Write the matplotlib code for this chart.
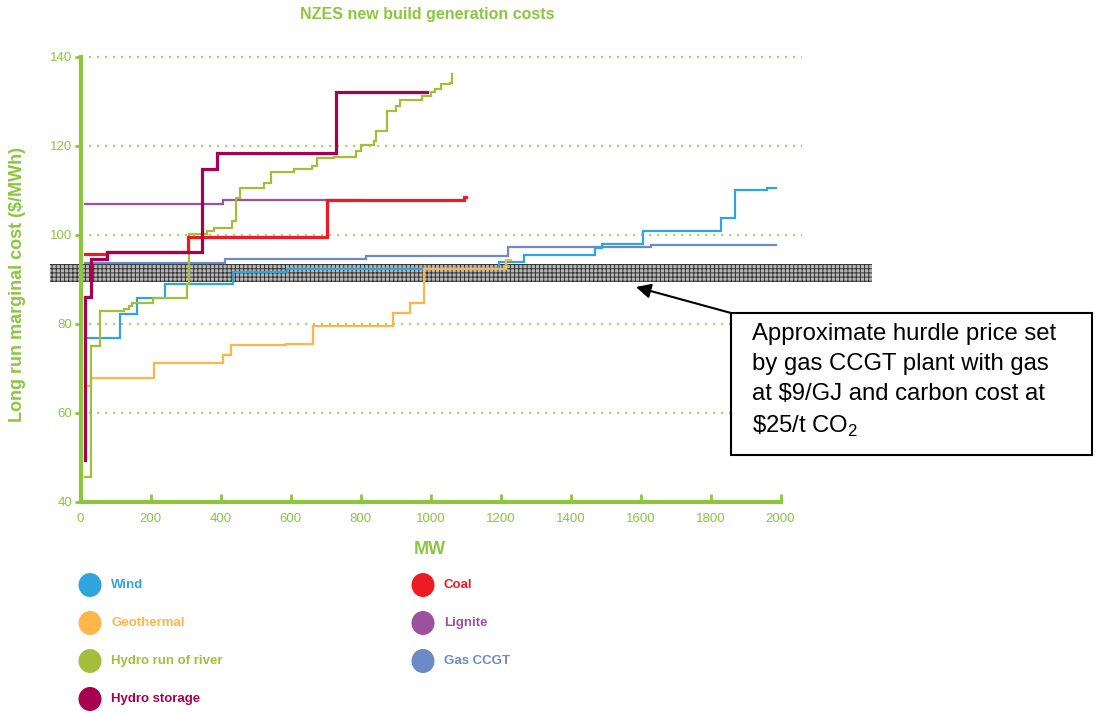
# NZES new build generation costs - step curves of long run marginal cost vs MW

import matplotlib
matplotlib.use('Agg')
import matplotlib.pyplot as plt
from matplotlib.patches import Rectangle, Ellipse

plt.rcParams['font.family'] = ['Liberation Sans', 'DejaVu Sans']
plt.rcParams['mathtext.fontset'] = 'custom'
plt.rcParams['mathtext.rm'] = 'Liberation Sans'
plt.rcParams['hatch.linewidth'] = 0.7

GREEN = '#8CC63F'
GRID = '#A9D46E'

# cumulative MW where each cost step starts, and the cost ($/MWh)
wind_x = [12, 112, 160, 240, 435, 589, 1197, 1267, 1471, 1490, 1607, 1829, 1871, 1962, 1986]
wind_y = [76.7, 82.2, 85.7, 88.9, 91.7, 92.4, 93.8, 95.4, 96.9, 97.8, 100.8, 103.7, 110.0, 110.6, 110.6]

geo_x = [12, 30, 211, 408, 429, 586, 663, 892, 941, 981, 1217, 1230]
geo_y = [66.0, 67.7, 71.2, 73.0, 75.2, 75.4, 79.5, 82.5, 84.7, 92.3, 94.3, 94.3]

ror_x = [12, 30, 55, 124, 138, 147, 207, 305, 310, 362, 381, 433, 443, 457, 524, 543,
         610, 662, 676, 724, 786, 800, 838, 843, 876, 900, 914, 976, 1000, 1014, 1029, 1057, 1062]
ror_y = [45.6, 75.0, 82.9, 83.3, 84.0, 84.7, 85.8, 88.9, 100.1, 100.9, 101.5, 103.0, 108.3, 110.4,
         111.7, 114.1, 114.7, 115.4, 117.3, 117.5, 118.8, 120.1, 121.1, 123.3, 127.8, 128.9,
         130.2, 131.2, 132.0, 132.7, 133.8, 134.2, 136.1]

storage_x = [12, 14, 31, 76, 348, 389, 729, 990]
storage_y = [49.4, 86.1, 94.5, 96.1, 114.8, 118.4, 132.0, 132.0]

coal_x = [12, 76, 308, 703, 1095, 1100]
coal_y = [95.7, 96.1, 99.4, 107.7, 108.4, 108.4]

lignite_x = [12, 407, 805]
lignite_y = [106.8, 107.7, 107.7]

gas_x = [12, 414, 817, 1222, 1629, 1986]
gas_y = [93.6, 94.5, 95.2, 97.2, 97.6, 97.6]

# hurdle price band
hurdle_lo, hurdle_hi = 89.3, 93.5

names = ['Wind', 'Geothermal', 'Hydro run of river', 'Hydro storage', 'Coal', 'Lignite', 'Gas CCGT']
colors = ['#2FA4DD', '#FDB64A', '#A4BE3B', '#A6004E', '#ED1C24', '#9B519E', '#6C8AC7']
series = [(wind_x, wind_y), (geo_x, geo_y), (ror_x, ror_y), (storage_x, storage_y),
          (coal_x, coal_y), (lignite_x, lignite_y), (gas_x, gas_y)]
widths = [1.6, 1.6, 1.6, 2.3, 2.3, 1.6, 1.6]
draw_order = [6, 0, 1, 5, 2, 4, 3]

fig = plt.figure(figsize=(10.96, 7.13), dpi=100)
ax = fig.add_axes([80.5 / 1096, (713 - 501.7) / 713, 700 / 1096, 445 / 713])
ax.set_xlim(0, 2000)
ax.set_ylim(40, 140)

# dotted gridlines
for gy in [60, 80, 100, 120, 140]:
    ax.plot([25, 2060], [gy, gy], color=GRID, lw=1.6, ls=(0, (1, 2.6)),
            clip_on=False, zorder=1)

# hatched hurdle band (runs past the axes)
ax.fill_between([-88, 2262], hurdle_lo, hurdle_hi, facecolor='#b8b8b8', edgecolor='#333333',
                hatch='++++', lw=0, clip_on=False, zorder=2)

for i in draw_order:
    x, y = series[i]
    ax.step(x, y, where='post', color=colors[i], lw=widths[i], zorder=3 + draw_order.index(i),
            solid_joinstyle='miter')

for side in ['top', 'right']:
    ax.spines[side].set_visible(False)
for side in ['left', 'bottom']:
    ax.spines[side].set_color(GREEN)
    ax.spines[side].set_linewidth(3)
    ax.spines[side].set_zorder(10)

ax.set_xticks(range(0, 2001, 200))
ax.set_yticks(range(40, 141, 20))
ax.tick_params(axis='x', direction='in', length=6, width=2, color=GREEN, labelcolor=GREEN,
               labelsize=9.5, pad=8)
ax.tick_params(axis='y', direction='out', length=4, width=2, color=GREEN, labelcolor=GREEN,
               labelsize=9.5, pad=2)

fig.text(427 / 1096, 1 - 15 / 713, 'NZES new build generation costs', color=GREEN,
         fontsize=11.5, fontweight='bold', ha='center', va='center')
fig.text(18 / 1096, 1 - 285 / 713, 'Long run marginal cost ($/MWh)', color=GREEN,
         fontsize=13, fontweight='bold', rotation=90, ha='center', va='center')
fig.text(430 / 1096, 1 - 549 / 713, 'MW', color=GREEN, fontsize=13, fontweight='bold',
         ha='center', va='center')

# overlay in pixel coords for legend and callout
ov = fig.add_axes([0, 0, 1, 1], zorder=20)
ov.set_xlim(0, 1096)
ov.set_ylim(713, 0)
ov.axis('off')
ov.patch.set_alpha(0)

legend_pos = [(90, 585), (90, 623), (90, 661), (90, 699), (423, 585), (423, 623), (423, 661)]
for (cx, cy), name, c in zip(legend_pos, names, colors):
    ov.add_patch(Ellipse((cx, cy), 23, 24, color=c, lw=0))
    ov.text(cx + 21, cy, name, color=c, fontsize=9.5, fontweight='bold', va='center', ha='left')

ov.add_patch(Rectangle((731, 313), 361, 142, facecolor='white', edgecolor='black', lw=1.5))
ov.text(752, 323, 'Approximate hurdle price set\nby gas CCGT plant with gas\n'
        'at \\$9/GJ and carbon cost at\n\\$25/t CO$_2$',
        fontsize=17.2, va='top', ha='left', linespacing=1.46, color='black')
ov.annotate('', xy=(636, 287), xytext=(731, 313),
            arrowprops=dict(arrowstyle='-|>', color='black', lw=1.5, mutation_scale=22,
                            shrinkA=0, shrinkB=0))

fig.savefig('out.png', dpi=100)
